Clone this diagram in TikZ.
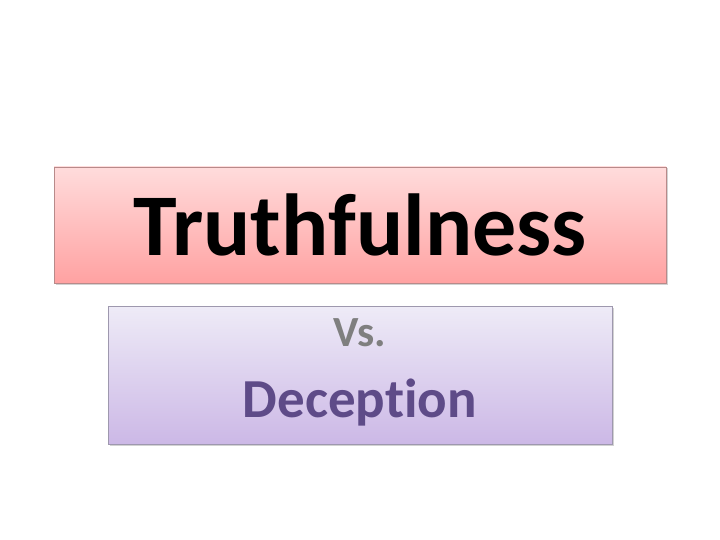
\documentclass[tikz,border=0pt]{standalone}
\usepackage{fontspec}
\setmainfont[Ligatures=NoCommon]{Carlito}
\usetikzlibrary{shadows}
\definecolor{pinktop}{HTML}{FFDCDC}
\definecolor{pinkbot}{HTML}{FFA2A2}
\definecolor{pinkline}{HTML}{B88A8A}
\definecolor{lilactop}{HTML}{EEEBF7}
\definecolor{lilacbot}{HTML}{CCB8E6}
\definecolor{lilacline}{HTML}{9E98AE}
\definecolor{deceptext}{HTML}{5E4B88}
\definecolor{vstext}{HTML}{7F7F7F}

\begin{document}
\begin{tikzpicture}[x=1pt,y=-1pt]
    \tikzstyle{slidebox}=[rectangle,draw,line width=0.8pt,drop shadow={shadow xshift=1.5pt,shadow yshift=-1.5pt,opacity=0.35}]
    \tikzstyle{titlebox}=[slidebox,draw=pinkline,top color=pinktop,bottom color=pinkbot]
    \tikzstyle{subbox}=[slidebox,draw=lilacline,top color=lilactop,bottom color=lilacbot]
    \tikzstyle{words}=[inner sep=0pt,anchor=base]
    \useasboundingbox[fill=white] (0,0) rectangle (720,540);
    % title
    \node[titlebox,minimum width=612pt,minimum height=116pt] (truthbox) at (360,225) {};
    \node[words,font=\fontsize{88}{96}\selectfont\bfseries] (truth) at (360,255) {Truthfulness};
    % subtitle
    \node[subbox,minimum width=504pt,minimum height=138pt] (decepbox) at (360,375) {};
    \node[words,text=vstext,font=\fontsize{43}{50}\selectfont\bfseries] (vs) at (360,346) {Vs.};
    \node[words,text=deceptext,font=\fontsize{55}{62}\selectfont\bfseries] (decep) at (360,417) {Deception};
\end{tikzpicture}
\end{document}
